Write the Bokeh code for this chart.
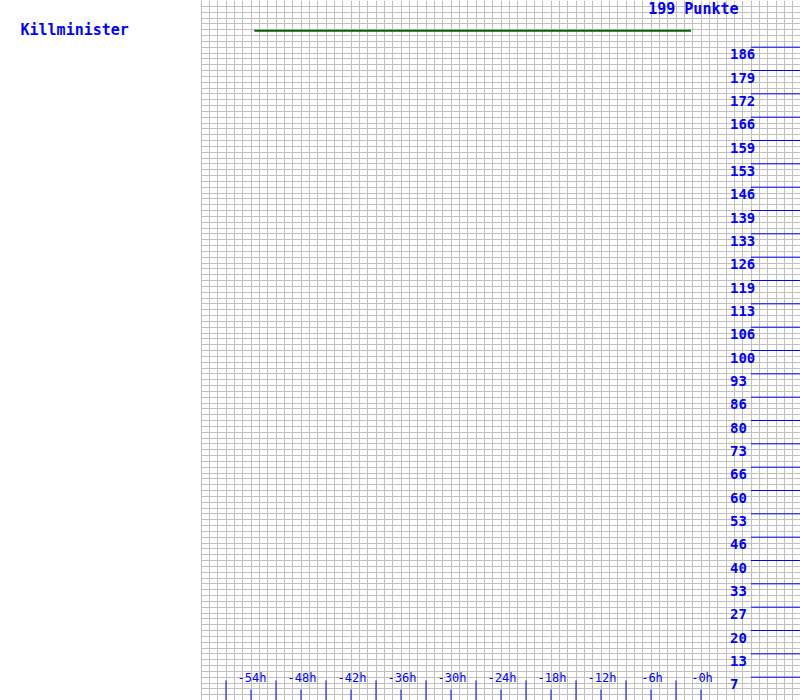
import numpy as np
from bokeh.plotting import figure
from bokeh.models import Range1d, Grid, SingleIntervalTicker, Label
from bokeh.core.properties import value
from bokeh.embed import file_html
from bokeh.resources import INLINE

# ---- data ----
player = "Killminister"
total_label = "199 Punkte"
hours = [-53.6, -1.2]
points = [199, 199]

x_tick_hours = [-54, -48, -42, -36, -30, -24, -18, -12, -6, 0]
x_tick_labels = ["-54h", "-48h", "-42h", "-36h", "-30h", "-24h", "-18h", "-12h", "-6h", "-0h"]
x_mid_hours = [-57, -51, -45, -39, -33, -27, -21, -15, -9, -3]

y_tick_labels = ["7", "13", "20", "27", "33", "40", "46", "53", "60", "66",
                 "73", "80", "86", "93", "100", "106", "113", "119", "126", "133",
                 "139", "146", "153", "159", "166", "172", "179", "186"]

Y_TOP = 208.0          # axis top (Punkte)
X_START, X_END = -60, 12
N_STEPS = 30
y_tick_pos = [(i + 1) * Y_TOP / N_STEPS for i in range(len(y_tick_labels))]

BLUE = "#0000ff"
FONT = value("DejaVu Sans Mono")
HALF_PX = 0.06  # half a pixel in hours, keeps 1px vertical lines crisp

p = figure(width=800, height=700, x_range=Range1d(-84 - HALF_PX, X_END - HALF_PX),
           y_range=Range1d(0, Y_TOP),
           output_backend="svg", toolbar_location=None,
           x_axis_location=None, y_axis_location=None, min_border=0)
p.outline_line_color = None
p.background_fill_color = "white"
p.border_fill_color = "white"
p.grid.visible = False

p.add_layout(Grid(dimension=0, ticker=SingleIntervalTicker(interval=1, num_minor_ticks=0),
                  bounds=(X_START, X_END), grid_line_color="#c0c0c0", grid_line_width=1))
p.add_layout(Grid(dimension=1, ticker=SingleIntervalTicker(interval=Y_TOP / 120, num_minor_ticks=0),
                  cross_bounds=(X_START, X_END), grid_line_color="#c0c0c0", grid_line_width=1))

# series
p.line(hours, points, line_color="#006400", line_width=2)

# right scale
p.segment(x0=6, x1=X_END, y0=y_tick_pos, y1=y_tick_pos, line_color=BLUE, line_width=1)
p.text(x=6, y=y_tick_pos, text=y_tick_labels, x_offset=-21, y_offset=2,
       text_align="left", text_baseline="top", text_color=BLUE,
       text_font=FONT, text_font_size="14px", text_font_style="bold")

# bottom scale
tick_x = x_tick_hours + x_mid_hours
tick_len = [11] * len(x_tick_hours) + [20] * len(x_mid_hours)
p.ray(x=tick_x, y=[0] * len(tick_x), length=tick_len, angle=np.pi / 2, length_units="screen",
      line_color=BLUE, line_width=1)
p.text(x=x_tick_hours, y=0, text=x_tick_labels, x_offset=1, y_offset=-23,
       text_align="center", text_baseline="middle", text_color=BLUE,
       text_font=FONT, text_font_size="12px")

# titles
p.add_layout(Label(x=20, y=671, x_units="screen", y_units="screen", text=player,
                   text_baseline="middle", text_color=BLUE, text_font="DejaVu Sans Mono",
                   text_font_size="15px", text_font_style="bold"))
p.add_layout(Label(x=738, y=692, x_units="screen", y_units="screen", text=total_label,
                   text_align="right", text_baseline="middle", text_color=BLUE,
                   text_font="DejaVu Sans Mono", text_font_size="15px", text_font_style="bold"))

open("out.html", "w").write(file_html(p, INLINE))
